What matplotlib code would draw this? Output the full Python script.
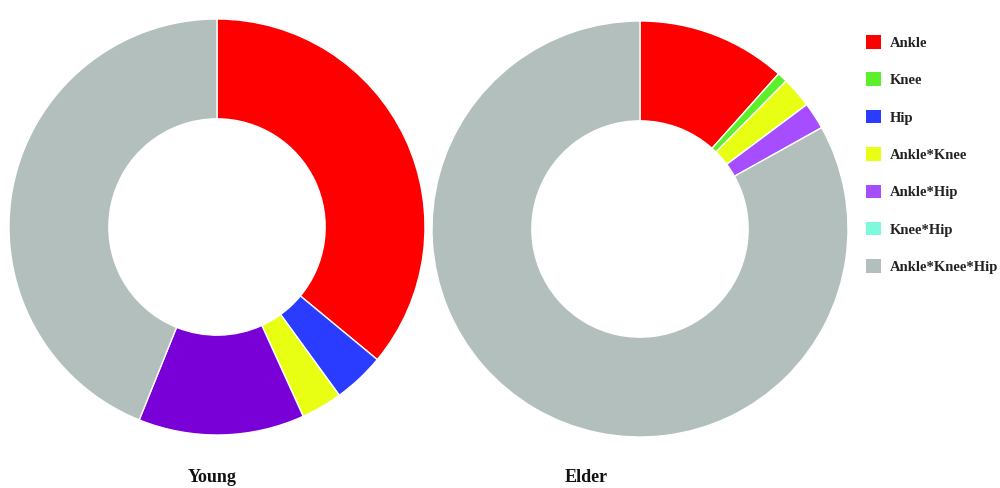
import matplotlib.pyplot as plt
from matplotlib.patches import Patch

# data (percent of group)
categories = ["Ankle", "Knee", "Hip", "Ankle*Knee", "Ankle*Hip", "Knee*Hip", "Ankle*Knee*Hip"]
young_values = [36.0, 0.0, 4.0, 3.2, 12.9, 0.0, 43.9]
elder_values = [11.6, 0.8, 0.0, 2.4, 2.1, 0.0, 83.1]
group_titles = ["Young", "Elder"]

colors = ["#ff0000", "#5cf02a", "#2a3cff", "#e8ff14", "#a64dff", "#7dfadc", "#b2bfbd"]
young_purple = "#7a00d8"

W, H = 1000, 488
fig = plt.figure(figsize=(W / 100, H / 100), dpi=100)

serif = ["Liberation Serif", "DejaVu Serif"]


def donut(cx, cy, r, values, cols, title, title_x):
    ax = fig.add_axes([(cx - r) / W, (H - cy - r) / H, 2 * r / W, 2 * r / H])
    vals = [v for v in values if v > 0]
    cs = [c for v, c in zip(values, cols) if v > 0]
    ax.pie(vals, colors=cs, startangle=90, counterclock=False, radius=1.0,
           wedgeprops=dict(width=0.48, edgecolor="white", linewidth=1.0))
    ax.set_xlim(-1, 1)
    ax.set_ylim(-1, 1)
    ax.set_aspect("equal")
    ax.axis("off")
    fig.text(title_x / W, 1 - 478 / H, title, ha="center", va="center",
             fontsize=13, fontweight="bold", family=serif, color="#111111")


young_cols = list(colors)
young_cols[4] = young_purple
donut(217, 227, 208, young_values, young_cols, group_titles[0], 212)
donut(640, 229, 208, elder_values, colors, group_titles[1], 586)

# legend
handles = [Patch(facecolor=c, edgecolor="none") for c in colors]
leg = fig.legend(handles, categories, loc="upper left",
                 bbox_to_anchor=(853 / W, 1 - 22 / H), frameon=False,
                 handlelength=1.05, handleheight=1.05, handletextpad=0.55,
                 labelspacing=1.55, prop=dict(family=serif, weight="bold", size=10.5))
for t in leg.get_texts():
    t.set_color("#222222")

fig.savefig("out.png", dpi=100, facecolor="white")
